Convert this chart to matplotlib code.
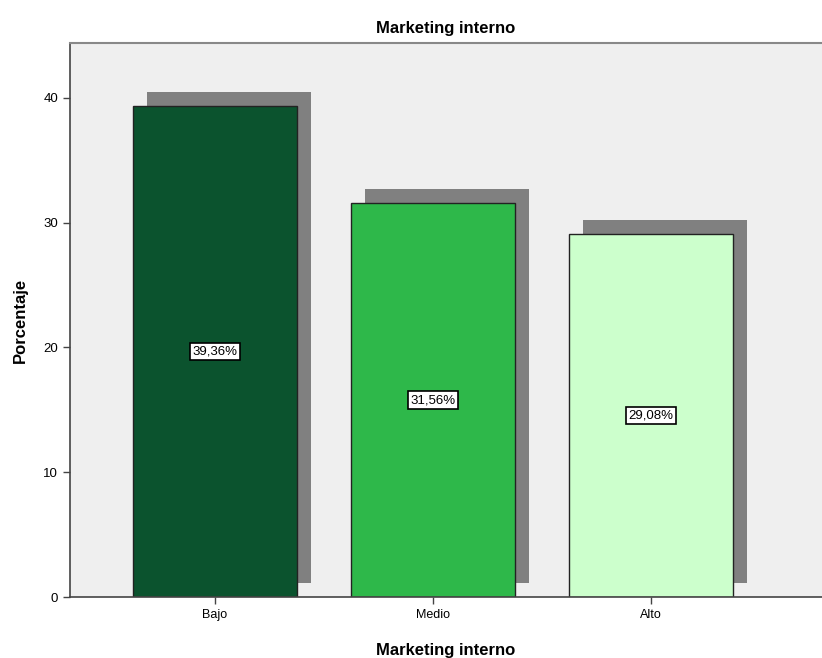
import matplotlib
matplotlib.use("Agg")
import matplotlib.pyplot as plt
from matplotlib.transforms import ScaledTranslation

categories = ["Bajo", "Medio", "Alto"]
values = [39.36, 31.56, 29.08]
labels = ["39,36%", "31,56%", "29,08%"]
colors = ["#0B532E", "#2EB84A", "#CCFFCC"]
yticks = [0, 10, 20, 30, 40]

plt.rcParams['font.family'] = ['Liberation Sans', 'DejaVu Sans']

fig = plt.figure(figsize=(8.22, 6.58), dpi=100)
ax = fig.add_axes([70/822, 61/658, 1 - 70/822, (597-43)/658])
ax.set_facecolor("#EFEFEF")

x = list(range(len(categories)))
width = 0.752
shadow_tr = ax.transData + ScaledTranslation(14/100, 14/100, fig.dpi_scale_trans)
ax.bar(x, values, width=width, color="#808080", transform=shadow_tr, zorder=1, linewidth=0)
ax.bar(x, values, width=width, color=colors, edgecolor="#222222", linewidth=1.0, zorder=2)

for xi, v, lab in zip(x, values, labels):
    ax.text(xi, v/2, lab, ha="center", va="center", fontsize=9.5,
            bbox=dict(boxstyle="square,pad=0.2", fc="white", ec="black", lw=1.2), zorder=3)

ax.set_xlim(-0.665, 2.784)
ax.set_ylim(0, 44.4)
ax.set_xticks(x)
ax.set_xticklabels(categories, fontsize=9)
ax.set_yticks(yticks)
ax.set_yticklabels([str(t) for t in yticks], fontsize=9.5)
ax.tick_params(axis='both', direction='out', length=5, width=1, color="#444444")

ax.spines["right"].set_visible(False)
ax.spines["top"].set_color("#888888")
ax.spines["top"].set_linewidth(1.5)
ax.spines["left"].set_color("#444444")
ax.spines["bottom"].set_color("#444444")
ax.spines["left"].set_linewidth(1.2)
ax.spines["bottom"].set_linewidth(1.2)

ax.set_title("Marketing interno", fontsize=12, fontweight="bold", pad=7)
ax.set_xlabel("Marketing interno", fontsize=12, fontweight="bold", labelpad=16)
ax.set_ylabel("Porcentaje", fontsize=12, fontweight="bold", labelpad=11)

fig.savefig("out.png", dpi=100)
